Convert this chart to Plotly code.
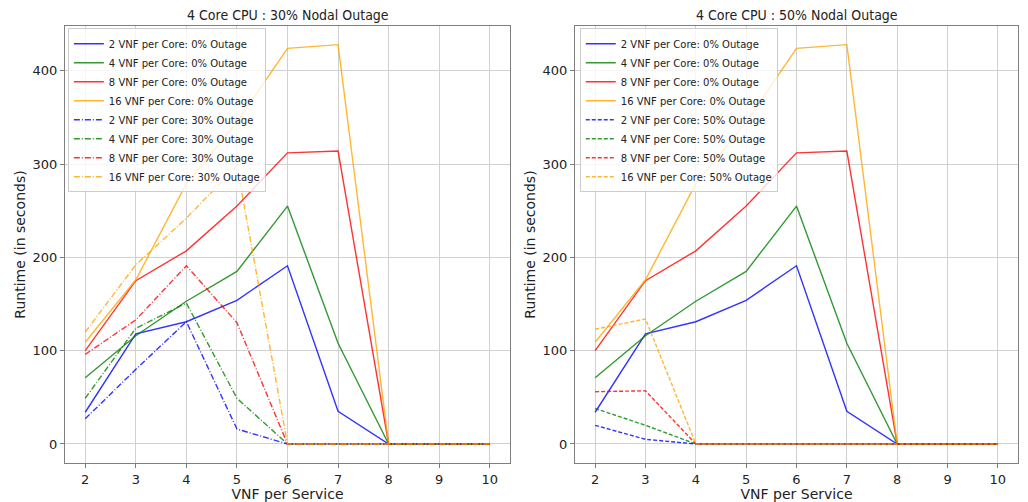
import plotly.graph_objects as go

x_vals = [2, 3, 4, 5, 6, 7, 8, 9, 10]
x_ticks = [2, 3, 4, 5, 6, 7, 8, 9, 10]
y_ticks = [0, 100, 200, 300, 400]

# 0% outage (same in both panels)
vnf2_0 = [34, 118, 131, 154, 191, 35, 0, 0, 0]
vnf4_0 = [71, 116, 153, 185, 255, 108, 0, 0, 0]
vnf8_0 = [100, 175, 207, 255, 312, 314, 0, 0, 0]
vnf16_0 = [109, 176, 279, 345, 424, 428, 0, 0, 0]

# 30% outage
vnf2_30 = [27, 80, 131, 16, 0, 0, 0, 0, 0]
vnf4_30 = [49, 124, 151, 49, 0, 0, 0, 0, 0]
vnf8_30 = [96, 133, 191, 130, 0, 0, 0, 0, 0]
vnf16_30 = [120, 192, 242, 298, 0, 0, 0, 0, 0]

# 50% outage
vnf2_50 = [20, 5, 0, 0, 0, 0, 0, 0, 0]
vnf4_50 = [38, 20, 0, 0, 0, 0, 0, 0, 0]
vnf8_50 = [56, 57, 0, 0, 0, 0, 0, 0, 0]
vnf16_50 = [123, 134, 0, 0, 0, 0, 0, 0, 0]

labels_vnf = ["2", "4", "8", "16"]
colors = ["rgba(0,0,255,0.8)", "rgba(0,128,0,0.8)", "rgba(255,0,0,0.8)", "rgba(255,165,0,0.8)"]

base = [vnf2_0, vnf4_0, vnf8_0, vnf16_0]
out30 = [vnf2_30, vnf4_30, vnf8_30, vnf16_30]
out50 = [vnf2_50, vnf4_50, vnf8_50, vnf16_50]

fig = go.Figure()

FONT = "DejaVu Sans"

for i, lab in enumerate(labels_vnf):
    fig.add_trace(go.Scatter(x=x_vals, y=base[i], mode="lines", xaxis="x", yaxis="y",
                             line=dict(color=colors[i], width=1.4),
                             name=f"{lab} VNF per Core: 0% Outage", legend="legend"))
for i, lab in enumerate(labels_vnf):
    fig.add_trace(go.Scatter(x=x_vals, y=out30[i], mode="lines", xaxis="x", yaxis="y",
                             line=dict(color=colors[i], width=1.4, dash="6px,2px,1px,2px"),
                             name=f"{lab} VNF per Core: 30% Outage", legend="legend"))
for i, lab in enumerate(labels_vnf):
    fig.add_trace(go.Scatter(x=x_vals, y=base[i], mode="lines", xaxis="x2", yaxis="y2",
                             line=dict(color=colors[i], width=1.4),
                             name=f"{lab} VNF per Core: 0% Outage", legend="legend2"))
for i, lab in enumerate(labels_vnf):
    fig.add_trace(go.Scatter(x=x_vals, y=out50[i], mode="lines", xaxis="x2", yaxis="y2",
                             line=dict(color=colors[i], width=1.4, dash="4px,2px"),
                             name=f"{lab} VNF per Core: 50% Outage", legend="legend2"))

axis_common = dict(
    showgrid=True, gridcolor="#d0d0d0", gridwidth=1,
    zeroline=False, showline=True, linecolor="#7f7f7f", linewidth=1, mirror=True,
    ticks="outside", ticklen=4, tickcolor="#7f7f7f", automargin=False,
    tickfont=dict(family=FONT, size=13, color="#222"),
)

L = 65
R = 10
T = 26
B = 39
W = 1028
pw = W - L - R
d1 = [0, (510 - L) / pw]
d2 = [(575 - L) / pw, 1]
y_range = [-20.4, 448]

xtitle = dict(text="VNF per Service", font=dict(family=FONT, size=14, color="#222"), standoff=1)
ytitle = dict(text="Runtime (in seconds)", font=dict(family=FONT, size=14, color="#222"), standoff=3)
title_font = dict(family="DejaVu Sans Condensed, DejaVu Sans", size=14, color="#222")

fig.update_layout(
    width=1028, height=502,
    margin=dict(l=L, r=R, t=T, b=B),
    paper_bgcolor="white", plot_bgcolor="white",
    font=dict(family=FONT, color="#222"),
    xaxis=dict(domain=d1, range=[1.6, 10.4], tickvals=x_ticks, anchor="y", title=xtitle, **axis_common),
    yaxis=dict(range=y_range, tickvals=y_ticks, anchor="x", title=ytitle, **axis_common),
    xaxis2=dict(domain=d2, range=[1.6, 10.4], tickvals=x_ticks, anchor="y2", title=xtitle, **axis_common),
    yaxis2=dict(range=y_range, tickvals=y_ticks, anchor="x2", title=ytitle, **axis_common),
    legend=dict(x=d1[0] + 0.003, y=0.995, xanchor="left", yanchor="top",
                bgcolor="rgba(255,255,255,0.8)", bordercolor="#cccccc", borderwidth=1,
                font=dict(family=FONT, size=10, color="#222"), itemwidth=30,
                tracegroupgap=0),
    legend2=dict(x=d2[0] + 0.005, y=0.995, xanchor="left", yanchor="top",
                 bgcolor="rgba(255,255,255,0.8)", bordercolor="#cccccc", borderwidth=1,
                 font=dict(family=FONT, size=10, color="#222"), itemwidth=30,
                 tracegroupgap=0),
    annotations=[
        dict(text="4 Core CPU : 30% Nodal Outage", x=(d1[0] + d1[1]) / 2, y=1, xref="paper", yref="paper",
             xanchor="center", yanchor="bottom", yshift=1, showarrow=False, font=title_font),
        dict(text="4 Core CPU : 50% Nodal Outage", x=(d2[0] + d2[1]) / 2, y=1, xref="paper", yref="paper",
             xanchor="center", yanchor="bottom", yshift=1, showarrow=False, font=title_font),
    ],
)

fig.write_html("out.html")
